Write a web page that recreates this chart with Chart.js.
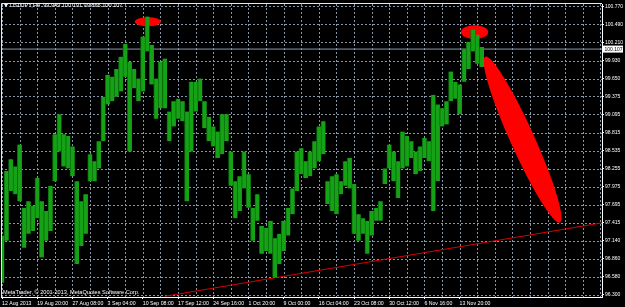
<!DOCTYPE html>
<html>
<head>
<meta charset="utf-8">
<script src="https://cdn.jsdelivr.net/npm/chart.js@4/dist/chart.umd.min.js"></script>
<style>
html,body{margin:0;padding:0;background:#000;}
canvas{display:block;}
</style>
</head>
<body>
<canvas id="canvas" width="625" height="307"></canvas>
<script>
// USDJPY H4, each bar here = one group of H4 candles (low / high)
const barLow = [
  96.49, 97.14, 97.91, 97.86, 97.75, 97.03, 97.25, 97.29, 97.49, 96.88,
  97.14, 97.29, 98.06, 98.52, 98.29, 98.26, 98.14, 96.78, 97.06, 97.25,
  98.06, 98.06, 98.26, 98.68, 99.25, 99.30, 99.37, 99.45, 99.68, 98.52,
  99.50, 99.30, 99.45, 100.07, 99.56, 99.03, 99.19, 99.19, 98.68, 98.91,
  99.03, 98.99, 97.75, 98.52, 99.14, 99.30, 98.88, 98.68, 98.60, 98.42,
  98.48, 98.68, 97.99, 97.49, 97.60, 97.95, 97.65, 97.14, 97.45, 96.94,
  96.98, 96.94, 96.57, 96.78, 96.98, 97.22, 97.55, 97.91, 98.17, 98.11,
  98.14, 98.26, 98.37, 98.48, 97.71, 97.60, 97.55, 97.86, 97.99, 97.95,
  97.25, 97.14, 97.25, 96.94, 97.22, 97.45, 97.45, 98.02, 98.26, 98.06,
  97.80, 98.26, 98.29, 98.42, 98.17, 98.22, 98.42, 98.37, 97.60, 98.06,
  98.91, 98.94, 99.30, 99.34, 99.10, 99.60, 99.80, 100.07, 99.88, 99.83
];
const barHigh = [
  97.22, 98.22, 98.40, 98.29, 98.63, 97.65, 97.75, 97.68, 98.11, 97.75,
  97.60, 97.99, 98.79, 99.10, 98.79, 98.76, 98.60, 98.06, 97.75, 97.86,
  98.48, 98.37, 98.68, 99.37, 99.71, 99.68, 99.80, 99.99, 100.19, 99.91,
  99.80, 99.65, 100.30, 100.61, 100.17, 99.65, 99.91, 99.96, 99.14, 99.30,
  99.34, 99.30, 99.14, 99.60, 99.60, 99.65, 99.30, 99.06, 98.91, 98.83,
  99.10, 99.10, 98.52, 98.06, 98.14, 98.52, 98.17, 97.65, 97.86, 97.37,
  97.34, 97.45, 97.18, 97.25, 97.45, 97.65, 97.95, 98.52, 98.57, 98.37,
  98.52, 98.68, 98.91, 98.99, 98.06, 98.14, 98.17, 98.06, 98.37, 98.42,
  98.02, 97.55, 97.49, 97.45, 97.60, 97.65, 97.75, 98.26, 98.63, 98.52,
  98.37, 98.83, 98.76, 98.68, 98.52, 98.60, 98.73, 98.68, 99.40, 99.25,
  99.19, 99.30, 99.76, 99.60, 99.56, 100.11, 100.22, 100.41, 100.33, 100.14
];
const xTickLabels = [
  "12 Aug 2013", "19 Aug 20:00", "27 Aug 08:00", "3 Sep 04:00", "10 Sep 08:00",
  "17 Sep 12:00", "24 Sep 16:00", "1 Oct 20:00", "9 Oct 00:00", "16 Oct 04:00",
  "23 Oct 08:00", "30 Oct 12:00", "6 Nov 16:00", "13 Nov 20:00"
];
const yTickLabels = [
  "100.770", "100.490", "100.210", "99.930", "99.650", "99.375", "99.095",
  "98.815", "98.535", "98.255", "97.975", "97.695", "97.415", "97.140",
  "96.860", "96.580", "96.300"
];
const header = "USDJPY,H4  99.949 100.191 99.866 100.107";
const bidPrice = 100.107;
const trendX = [37, 136.6];
const trendY = [96.28, 97.42];
// red ellipses: ends of the long axis (bar index, price)
const ellipseStart = [[30.2, 100.53], [104.3, 100.37], [109.8, 99.99]];
const ellipseEnd = [[36.1, 100.53], [110.5, 100.37], [126.8, 97.42]];

const xMin = -0.23, xMax = 136.36;
const gridColor = "#8796a6";
const font5 = { family: "Liberation Sans", size: 5.2 };

// dotted grid drawn under the bars, on the scales' own ticks
function drawGrid(chart) {
  const c = chart.ctx, a = chart.chartArea, xs = chart.scales.x, ys = chart.scales.y;
  c.save();
  c.strokeStyle = gridColor;
  c.lineWidth = 1;
  c.setLineDash([2, 2]);
  c.beginPath();
  xs.ticks.forEach((t) => {
    const x = Math.round(xs.getPixelForValue(t.value)) + 0.5;
    c.moveTo(x, a.top); c.lineTo(x, a.bottom);
  });
  ys.ticks.forEach((t) => {
    const y = Math.round(ys.getPixelForValue(t.value)) + 0.5;
    c.moveTo(a.left, y); c.lineTo(a.right, y);
  });
  c.stroke();
  c.restore();
}

const mtDecor = {
  id: "mtDecor",
  beforeDraw(chart) {
    const c = chart.ctx;
    c.save();
    c.fillStyle = "#000";
    c.fillRect(0, 0, chart.width, chart.height);
    c.restore();
  },
  beforeDatasetsDraw(chart) {
    drawGrid(chart);
    const c = chart.ctx, xs = chart.scales.x, ys = chart.scales.y;
    const minor = [4.5, 6.8, 12];
    c.save();
    c.fillStyle = "#ff0000";
    ellipseStart.forEach((s, k) => {
      const x1 = xs.getPixelForValue(s[0]), y1 = ys.getPixelForValue(s[1]);
      const x2 = xs.getPixelForValue(ellipseEnd[k][0]), y2 = ys.getPixelForValue(ellipseEnd[k][1]);
      const a = Math.hypot(x2 - x1, y2 - y1) / 2;
      c.beginPath();
      c.ellipse((x1 + x2) / 2, (y1 + y2) / 2, a, minor[k], Math.atan2(y2 - y1, x2 - x1), 0, Math.PI * 2);
      c.fill();
    });
    c.restore();
  },
  afterDraw(chart) {
    const c = chart.ctx, a = chart.chartArea, ys = chart.scales.y;
    c.save();
    // frame
    c.strokeStyle = "#e8e8e8";
    c.lineWidth = 1;
    c.beginPath();
    c.moveTo(a.left + 0.5, a.bottom);
    c.lineTo(a.left + 0.5, a.top - 0.5);
    c.lineTo(a.right, a.top - 0.5);
    c.stroke();
    // header
    c.fillStyle = "#fff";
    c.beginPath();
    c.moveTo(4, 4); c.lineTo(8, 4); c.lineTo(6, 7); c.closePath();
    c.fill();
    c.font = "5.6px 'Liberation Sans'";
    c.textBaseline = "middle";
    c.fillText(header, 10, 5.6);
    c.fillText("MetaTrader, \u00a9 2001-2013, MetaQuotes Software Corp.", 3, 292.5);
    // bid label
    const by = ys.getPixelForValue(bidPrice);
    c.fillStyle = "#fff";
    c.fillRect(603, by - 3.5, 20, 7);
    c.fillStyle = "#000";
    c.font = "5px 'Liberation Sans'";
    c.fillText(bidPrice.toFixed(3), 604.5, by + 0.3);
    c.restore();
  }
};

const ctx = document.getElementById("canvas").getContext("2d");

new Chart(ctx, {
  type: "bar",
  data: {
    datasets: [
      {
        type: "line",
        data: [{ x: xMin, y: bidPrice }, { x: xMax, y: bidPrice }],
        borderColor: "#8a98a8",
        borderWidth: 1,
        pointRadius: 0,
        order: 3
      },
      {
        type: "line",
        data: [{ x: trendX[0], y: trendY[0] }, { x: trendX[1], y: trendY[1] }],
        borderColor: "#d80000",
        borderWidth: 1,
        pointRadius: 0,
        order: 2
      },
      {
        type: "bar",
        data: barLow.map((lo, i) => ({ x: i, y: [lo, barHigh[i]] })),
        backgroundColor: "#16a216",
        borderColor: "#0a6e0a",
        borderWidth: { left: 1, right: 0, top: 0, bottom: 0 },
        borderSkipped: false,
        barThickness: 4.6,
        order: 1
      }
    ]
  },
  options: {
    responsive: false,
    animation: false,
    layout: { padding: { left: 1, top: 2, right: 0, bottom: 0 } },
    plugins: { legend: { display: false }, tooltip: { enabled: false } },
    scales: {
      x: {
        type: "linear",
        min: xMin,
        max: xMax,
        offset: false,
        afterBuildTicks: (s) => {
          s.ticks = [];
          for (let v = 0; v <= 136; v += 4) s.ticks.push({ value: v });
        },
        afterFit: (s) => { s.height = 10; },
        grid: {
          offset: false,
          drawOnChartArea: false,
          tickLength: 2,
          tickColor: (c) => (c.tick && c.tick.value % 8 === 0 && c.tick.value <= 104) ? "#fff" : "rgba(0,0,0,0)"
        },
        border: { display: true, color: "#fff", width: 1 },
        ticks: {
          autoSkip: false,
          maxRotation: 0,
          align: "start",
          padding: 1,
          color: "#fff",
          font: font5,
          callback: (v) => (v % 8 === 0 && xTickLabels[v / 8]) ? xTickLabels[v / 8] : ""
        }
      },
      y: {
        position: "right",
        min: 96.269,
        max: 100.805,
        afterBuildTicks: (s) => { s.ticks = yTickLabels.map((l) => ({ value: parseFloat(l) })); },
        afterFit: (s) => { s.width = 23; },
        grid: { drawOnChartArea: false, tickLength: 2, tickColor: "#fff" },
        border: { display: true, color: "#fff", width: 1 },
        ticks: {
          autoSkip: false,
          padding: 1,
          color: "#fff",
          font: { family: "Liberation Sans", size: 5 },
          callback: (v, i) => yTickLabels[i]
        }
      }
    }
  },
  plugins: [mtDecor]
});
</script>
</body>
</html>
